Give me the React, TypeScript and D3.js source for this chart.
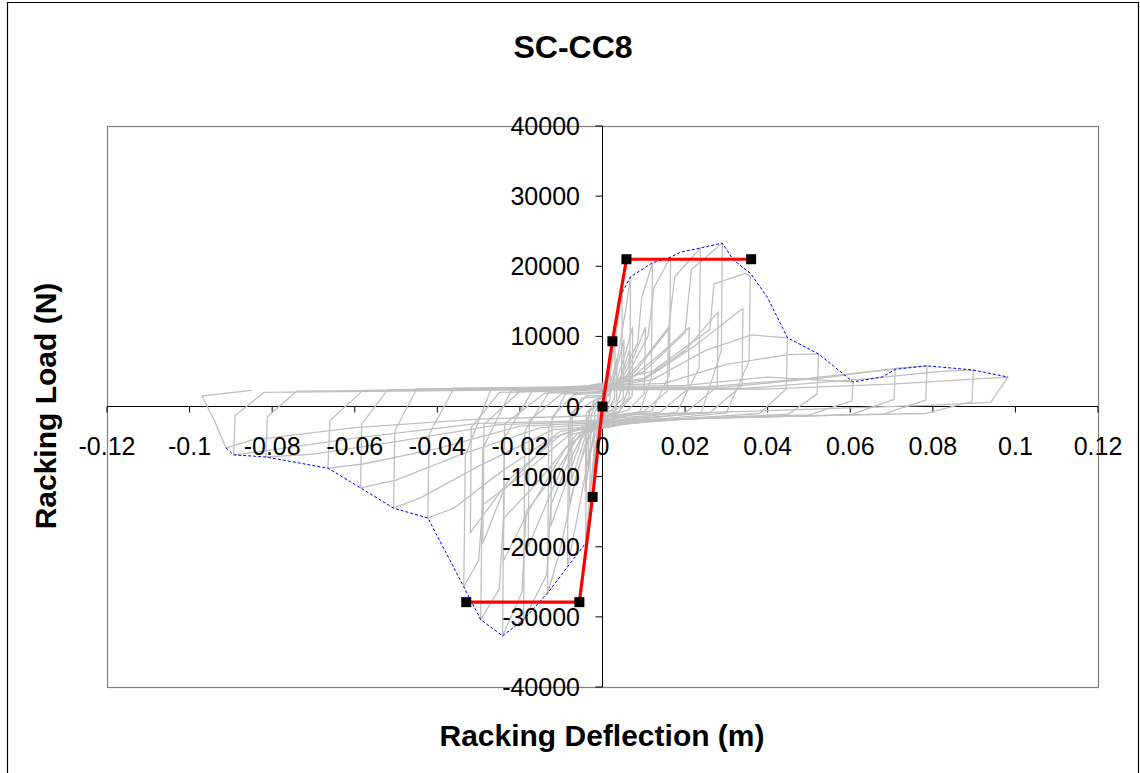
import React from "react";
import * as d3 from "d3";

type Pt = [number, number];

// Axis ticks
const xTickValues = [-0.12, -0.1, -0.08, -0.06, -0.04, -0.02, 0, 0.02, 0.04, 0.06, 0.08, 0.1, 0.12];
const xTickLabels = ["-0.12", "-0.1", "-0.08", "-0.06", "-0.04", "-0.02", "0", "0.02", "0.04", "0.06", "0.08", "0.1", "0.12"];
const yTickValues = [-40000, -30000, -20000, -10000, 0, 10000, 20000, 30000, 40000];
const yTickLabels = ["-40000", "-30000", "-20000", "-10000", "0", "10000", "20000", "30000", "40000"];

// Measured racking load vs deflection, cycle by cycle (m, N)
const cycle01: Pt[] = [[0, 0], [0.0004, 1200], [0.0007, 2400], [0.0005, 300], [-0.0003, -200], [-0.0006, -2000], [-0.0004, -300], [0, 0]];
const cycle02: Pt[] = [[0, 0], [0.0006, 2200], [0.0011, 3800], [0.0009, 600], [0.0002, -200], [-0.0006, -2400], [-0.0012, -4200], [-0.001, -500], [0, 300]];
const cycle03: Pt[] = [[0, 300], [0.001, 2500], [0.0017, 6000], [0.0021, 8200], [0.0018, 900], [0.0005, -400], [-0.0008, -2500], [-0.0016, -6500], [-0.0022, -9200], [-0.0019, -800], [-0.0005, 500]];
const cycle04: Pt[] = [[-0.0005, 500], [0.0008, 1500], [0.002, 6000], [0.0028, 9800], [0.0031, 11300], [0.0029, 1200], [0.0015, -300], [-0.0005, -900], [-0.0018, -6000], [-0.0028, -11500], [-0.0031, -13000], [-0.0028, -1200], [-0.0012, 800]];
const cycle04b: Pt[] = [[0, 500], [0.002, 3500], [0.0035, 6800], [0.0034, 900], [0.001, -400], [-0.002, -3500], [-0.0035, -8500], [-0.0033, -700], [0, 600]];
const cycle05: Pt[] = [[-0.0012, 800], [0.001, 1800], [0.0025, 7000], [0.0038, 12500], [0.0048, 16300], [0.0046, 2500], [0.003, -500], [-0.0005, -1200], [-0.0022, -7500], [-0.0034, -15000], [-0.0041, -19500], [-0.0038, -2000], [-0.002, 900]];
const cycle06: Pt[] = [[-0.002, 900], [0.0015, 1500], [0.0035, 5500], [0.0052, 9500], [0.005, 1200], [0.002, -600], [-0.001, -900], [-0.003, -7000], [-0.0042, -12000], [-0.0039, -1000], [-0.001, 1000]];
const cycle07: Pt[] = [[-0.001, 1000], [0.002, 2000], [0.004, 8000], [0.0058, 14500], [0.0068, 18500], [0.0066, 3000], [0.004, -900], [0, -1500], [-0.003, -6000], [-0.006, -15500], [-0.0085, -22900], [-0.0082, -2500], [-0.005, 1200], [0, 1400]];
const cycle07b: Pt[] = [[0, 1500], [0.004, 3500], [0.0065, 8000], [0.0064, 1200], [0.003, -600], [-0.004, -4000], [-0.0075, -10500], [-0.0073, -900], [0, 1500]];
const cycle08: Pt[] = [[0, 1400], [0.003, 3000], [0.0055, 7500], [0.0073, 11300], [0.0072, 1500], [0.004, -700], [0, -1300], [-0.004, -5000], [-0.0068, -11000], [-0.008, -14000], [-0.0078, -1200], [-0.004, 1500], [0, 1600]];
const cycle09: Pt[] = [[0, 1600], [0.004, 3800], [0.0085, 9000], [0.0095, 15500], [0.0121, 20500], [0.0118, 4000], [0.009, -800], [0.003, -1500], [-0.002, -2500], [-0.006, -9000], [-0.0105, -21000], [-0.0133, -26600], [-0.013, -3000], [-0.009, 1800], [-0.002, 2000]];
const cycle10: Pt[] = [[-0.002, 2000], [0.004, 3200], [0.0075, 7000], [0.0104, 11300], [0.0101, 1800], [0.006, -600], [0, -1400], [-0.005, -4500], [-0.0095, -12000], [-0.0125, -17000], [-0.0122, -1500], [-0.007, 1700], [0, 1900]];
const cycle11: Pt[] = [[0, 1900], [0.006, 4500], [0.011, 10000], [0.0125, 17000], [0.0165, 21300], [0.0162, 4500], [0.012, -600], [0.004, -1600], [-0.004, -3000], [-0.009, -9000], [-0.0125, -14000], [-0.0135, -24000], [-0.0191, -30400], [-0.0188, -3500], [-0.013, 2000], [-0.004, 2300]];
const cycle12: Pt[] = [[-0.004, 2300], [0.005, 3500], [0.011, 7500], [0.016, 11300], [0.0157, 2200], [0.01, -700], [0, -1500], [-0.007, -5000], [-0.013, -13000], [-0.018, -20000], [-0.0177, -2000], [-0.01, 1800], [0, 2000]];
const cycle13: Pt[] = [[0, 2000], [0.008, 5000], [0.016, 11000], [0.0175, 18500], [0.0237, 22600], [0.0234, 5500], [0.018, -800], [0.006, -1800], [-0.005, -3500], [-0.012, -10000], [-0.0185, -15000], [-0.0195, -26500], [-0.0242, -32700], [-0.0238, -4500], [-0.017, 2200], [-0.005, 2500]];
const cycle14: Pt[] = [[-0.005, 2500], [0.006, 3600], [0.014, 7500], [0.021, 11300], [0.0207, 2500], [0.014, -800], [0, -1600], [-0.009, -6000], [-0.018, -15000], [-0.024, -22000], [-0.0237, -2500], [-0.014, 1900], [0, 2100]];
const cycle15: Pt[] = [[0, 2100], [0.01, 5000], [0.02, 10500], [0.0215, 19500], [0.029, 23300], [0.0288, 8000], [0.024, -800], [0.008, -1900], [-0.006, -3800], [-0.016, -11000], [-0.024, -16000], [-0.025, -26000], [-0.0295, -30400], [-0.029, -6000], [-0.022, 2400], [-0.006, 2600]];
const cycle15b: Pt[] = [[-0.006, 2600], [0.01, 4000], [0.02, 8000], [0.028, 13500], [0.0278, 2800], [0.02, -900], [0, -1800], [-0.012, -4500], [-0.024, -12000], [-0.029, -19500], [-0.0287, -2600], [-0.02, 2200], [-0.006, 2600]];
const cycle16: Pt[] = [[-0.006, 2600], [0.012, 5000], [0.026, 11000], [0.027, 17500], [0.0346, 19000], [0.0358, 18500], [0.0355, 6500], [0.03, -900], [0.01, -2000], [-0.008, -4000], [-0.02, -10000], [-0.029, -14000], [-0.03, -22000], [-0.0336, -25700], [-0.0332, -7000], [-0.027, 2500], [-0.008, 2700]];
const cycle17: Pt[] = [[-0.008, 2700], [0.01, 3800], [0.022, 8500], [0.034, 14000], [0.0338, 3000], [0.026, -900], [0.005, -1800], [-0.01, -4000], [-0.022, -10000], [-0.032, -18000], [-0.0318, -3000], [-0.025, 2000], [-0.005, 2300]];
const cycle18: Pt[] = [[-0.005, 2300], [0.012, 3800], [0.025, 8000], [0.036, 10200], [0.0448, 9800], [0.0445, 2500], [0.038, -1000], [0.015, -1900], [-0.01, -3500], [-0.025, -9500], [-0.036, -14500], [-0.0423, -15900], [-0.042, -4000], [-0.036, 2600], [-0.01, 2800]];
const cycle19: Pt[] = [[-0.01, 2800], [0.015, 3300], [0.03, 6000], [0.045, 7400], [0.0523, 7500], [0.052, 1800], [0.045, -1100], [0.02, -1800], [-0.012, -3300], [-0.03, -8500], [-0.044, -13000], [-0.0506, -14500], [-0.0503, -3500], [-0.045, 2500], [-0.012, 2700]];
const cycle20: Pt[] = [[-0.012, 2700], [0.02, 3000], [0.04, 4200], [0.0607, 3500], [0.0604, 800], [0.05, -1200], [0.02, -1800], [-0.015, -3000], [-0.035, -7000], [-0.05, -10500], [-0.0586, -11600], [-0.0583, -2500], [-0.052, 2400], [-0.015, 2600]];
const cycle21: Pt[] = [[-0.015, 2600], [0.025, 2800], [0.05, 4000], [0.065, 5000], [0.0709, 5300], [0.0706, 1000], [0.06, -1200], [0.025, -1700], [-0.02, -2800], [-0.04, -6000], [-0.058, -8200], [-0.0665, -8800], [-0.066, -2000], [-0.058, 2300], [-0.02, 2500]];
const cycle22: Pt[] = [[-0.02, 2500], [0.03, 2800], [0.055, 4200], [0.072, 5500], [0.0786, 5800], [0.0783, 900], [0.068, -1100], [0.03, -1600], [-0.025, -2600], [-0.05, -5000], [-0.07, -6800], [-0.0815, -7200], [-0.0812, -1500], [-0.074, 2200], [-0.025, 2400]];
const cycle23: Pt[] = [[-0.025, 2400], [0.035, 2600], [0.065, 4000], [0.082, 5000], [0.0898, 5200], [0.0895, 700], [0.078, -1000], [0.035, -1500], [-0.03, -2400], [-0.06, -4500], [-0.08, -6200], [-0.0893, -6900], [-0.089, -1300], [-0.082, 2000], [-0.03, 2300]];
const cycle24: Pt[] = [[-0.03, 2300], [0.04, 2500], [0.07, 3200], [0.09, 3900], [0.0982, 4200], [0.094, 600], [0.08, 200], [0.04, -600], [-0.03, -1800], [-0.06, -3000], [-0.085, -4800], [-0.0912, -5900], [-0.094, -2000], [-0.097, 1500], [-0.085, 2300]];

const testCycles: Pt[][] = [
  cycle01, cycle02, cycle03, cycle04, cycle04b, cycle05, cycle06, cycle07, cycle07b, cycle08,
  cycle09, cycle10, cycle11, cycle12, cycle13, cycle14, cycle15, cycle15b, cycle16,
  cycle17, cycle18, cycle19, cycle20, cycle21, cycle22, cycle23, cycle24,
];

// Peak-load envelope (m, N)
const envelopeNeg: Pt[] = [
  [-0.0912, -5900], [-0.0893, -6900], [-0.0815, -7200], [-0.0665, -8800], [-0.0586, -11600],
  [-0.0506, -14500], [-0.0423, -15900], [-0.0336, -25700], [-0.0295, -30400], [-0.0242, -32700],
  [-0.0191, -30400], [-0.0133, -26600], [-0.0085, -22900], [-0.0041, -19500],
];
const envelopePos: Pt[] = [
  [0.0048, 16300], [0.0068, 18500], [0.0121, 20500], [0.0165, 21300], [0.0189, 22000],
  [0.0237, 22600], [0.029, 23300], [0.0317, 20900], [0.0358, 19000], [0.0399, 15600],
  [0.0448, 9800], [0.0523, 7500], [0.0607, 3500], [0.0677, 4200], [0.0709, 5300],
  [0.0786, 5800], [0.0898, 5200], [0.0982, 4200],
];

// Equivalent bilinear model (m, N)
const bilinear: Pt[] = [
  [-0.033, -27900], [-0.0056, -27900], [-0.0024, -12900], [0, 0],
  [0.0024, 9300], [0.0058, 21000], [0.036, 21000],
];

const FONT = "'Liberation Sans', Arial, Helvetica, sans-serif";

export default function App() {
  const x = d3.scaleLinear().domain([-0.12, 0.12]).range([107, 1098]);
  const y = d3.scaleLinear().domain([-40000, 40000]).range([687, 126]);
  const line = d3.line<Pt>().x((d) => x(d[0])).y((d) => y(d[1]));
  const x0 = x(0);
  const y0 = y(0);

  return (
    <svg
      width={1140}
      height={773}
      style={{ position: "absolute", left: 0, top: 0, display: "block", background: "#fff" }}
    >
      <rect x={0} y={0} width={1140} height={773} fill="#fff" />
      {/* chart frame */}
      <path d="M7.5,780 V2.5 H1138.5 V780" fill="none" stroke="#000" strokeWidth={1.2} />
      {/* plot area */}
      <rect x={107.5} y={126.5} width={991} height={561} fill="none" stroke="#808080" strokeWidth={1.2} />

      {/* axes */}
      <line x1={x(-0.12)} x2={x(0.12)} y1={y0} y2={y0} stroke="#000" strokeWidth={1} />
      <line x1={x0} x2={x0} y1={y(40000)} y2={y(-40000)} stroke="#000" strokeWidth={1} />
      {xTickValues.map((v) => (
        <line key={"xt" + v} x1={x(v)} x2={x(v)} y1={y0} y2={y0 + 6} stroke="#000" strokeWidth={1} />
      ))}
      {yTickValues.map((v) => (
        <line key={"yt" + v} x1={x0 - 7} x2={x0} y1={y(v)} y2={y(v)} stroke="#000" strokeWidth={1} />
      ))}

      {/* hysteresis record */}
      <g fill="none" stroke="#c0c0c0" strokeWidth={1.3} strokeLinejoin="round">
        {testCycles.map((c, i) => (
          <path key={"c" + i} d={line(c) || ""} />
        ))}
      </g>

      {/* envelope */}
      <g fill="none" stroke="#0000ff" strokeWidth={1} strokeDasharray="3,2">
        <path d={line(envelopeNeg) || ""} />
        <path d={line(envelopePos) || ""} />
      </g>

      {/* bilinear */}
      <path d={line(bilinear) || ""} fill="none" stroke="#ff0000" strokeWidth={3.2} strokeLinejoin="round" />
      {bilinear.map((d, i) => (
        <rect key={"m" + i} x={x(d[0]) - 5} y={y(d[1]) - 5} width={10} height={10} fill="#000" />
      ))}

      {/* tick labels */}
      <g fontFamily={FONT} fontSize={25} fill="#000">
        {xTickValues.map((v, i) => (
          <text key={"xl" + v} x={x(v)} y={y0 + 48} textAnchor="middle">
            {xTickLabels[i]}
          </text>
        ))}
        {yTickValues.map((v, i) => (
          <text key={"yl" + v} x={580} y={y(v)} textAnchor="end" dominantBaseline="central">
            {yTickLabels[i]}
          </text>
        ))}
      </g>

      {/* titles */}
      <text x={573} y={58} textAnchor="middle" fontFamily={FONT} fontWeight="bold" fontSize={32}>
        SC-CC8
      </text>
      <text x={602} y={746} textAnchor="middle" fontFamily={FONT} fontWeight="bold" fontSize={30}>
        Racking Deflection (m)
      </text>
      <text
        transform="translate(56,406) rotate(-90)"
        textAnchor="middle"
        fontFamily={FONT}
        fontWeight="bold"
        fontSize={30}
      >
        Racking Load (N)
      </text>
    </svg>
  );
}
